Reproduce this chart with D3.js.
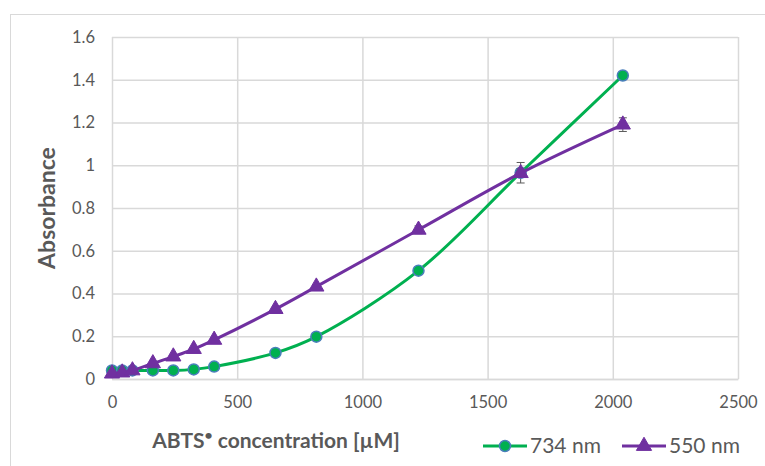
<!DOCTYPE html>
<html>
<head>
<meta charset="utf-8">
<script src="https://cdn.jsdelivr.net/npm/d3@7"></script>
<style>
  body { margin: 0; background: #fff; }
  text { font-family: Lato, "Open Sans", sans-serif; }
</style>
</head>
<body>
<div id="chart"></div>
<script>
// concentrations of ABTS radical (uM)
var conc = [0, 40.8, 81.6, 163.2, 244.8, 326.4, 408, 652.8, 816, 1224, 1632, 2040];
// absorbance at 734 nm
var abs734 = [0.04, 0.04, 0.04, 0.04, 0.04, 0.045, 0.058, 0.122, 0.198, 0.507, 0.965, 1.42];
var err734 = [0.005, 0.005, 0.005, 0.005, 0.005, 0.005, 0.005, 0.006, 0.006, 0.008, 0.048, 0.006];
// absorbance at 550 nm
var abs550 = [0.025, 0.03, 0.04, 0.073, 0.105, 0.14, 0.183, 0.327, 0.432, 0.698, 0.963, 1.19];
var err550 = [0.004, 0.004, 0.004, 0.004, 0.004, 0.005, 0.005, 0.006, 0.008, 0.018, 0.02, 0.032];
var xTicks = [0, 500, 1000, 1500, 2000, 2500];
var yTicks = [0, 0.2, 0.4, 0.6, 0.8, 1, 1.2, 1.4, 1.6];

var W = 765, H = 466;
var margin = {left: 112, right: 27, top: 37, bottom: 87};
var width = W - margin.left - margin.right;
var height = H - margin.top - margin.bottom;

var svg = d3.select("#chart").append("svg")
    .attr("width", W)
    .attr("height", H);

// outer chart frame
svg.append("rect")
    .attr("x", 10.5).attr("y", 14.5)
    .attr("width", 780).attr("height", 480)
    .attr("fill", "none")
    .attr("stroke", "#d9d9d9")
    .attr("stroke-width", 1);

var g = svg.append("g")
    .attr("transform", "translate(" + margin.left + "," + margin.top + ")");

var xScale = d3.scaleLinear().domain([0, 2500]).range([0, width]);
var yScale = d3.scaleLinear().domain([0, 1.6]).range([height, 0]);

// grid lines
g.append("g")
    .attr("class", "grid")
    .call(d3.axisLeft(yScale).tickValues(yTicks).tickSize(-width).tickFormat(""))
    .call(s => s.select(".domain").remove())
    .selectAll("line").attr("stroke", "#d9d9d9").attr("stroke-width", 1.5);

g.append("g")
    .attr("class", "grid")
    .call(d3.axisBottom(xScale).tickValues(xTicks).tickSize(height).tickFormat(""))
    .call(s => s.select(".domain").remove())
    .selectAll("line").attr("stroke", "#d9d9d9").attr("stroke-width", 1.5);

// axis labels
var xAxis = g.append("g")
    .attr("transform", "translate(0," + height + ")")
    .call(d3.axisBottom(xScale).tickValues(xTicks).tickSize(0).tickPadding(17).tickFormat(d3.format("d")));
xAxis.select(".domain").attr("stroke", "#d9d9d9").attr("stroke-width", 1.5);
xAxis.selectAll("text").style("font-size", "16.5px").attr("fill", "#595959");

var yAxis = g.append("g")
    .call(d3.axisLeft(yScale).tickValues(yTicks).tickSize(0).tickPadding(17).tickFormat(d => d));
yAxis.select(".domain").remove();
yAxis.selectAll("text").style("font-size", "16.5px").attr("fill", "#595959");

// axis titles
var xt = svg.append("text")
    .attr("x", 276)
    .attr("y", 448)
    .attr("text-anchor", "middle")
    .attr("fill", "#595959")
    .style("font-size", "21px")
    .style("font-weight", "bold");
xt.append("tspan").text("ABTS");
xt.append("tspan").attr("dy", "-8").style("font-size", "14px").text("\u2022");
xt.append("tspan").attr("dy", "8").text(" concentration [\u00b5M]");

svg.append("text")
    .attr("transform", "rotate(-90)")
    .attr("x", -208)
    .attr("y", 55)
    .attr("text-anchor", "middle")
    .attr("fill", "#595959")
    .style("font-size", "23px")
    .style("font-weight", "bold")
    .text("Absorbance");

var series = [
    {name: "734 nm", y: abs734, err: err734, color: "#00b050", marker: "circle"},
    {name: "550 nm", y: abs550, err: err550, color: "#7030a0", marker: "triangle"}
];

var line = d3.line()
    .x(d => xScale(d[0]))
    .y(d => yScale(d[1]))
    .curve(d3.curveCatmullRom.alpha(0.5));

var circleSym = d3.symbol().type(d3.symbolCircle).size(95);
var triSym = d3.symbol().type(d3.symbolTriangle).size(100);

series.forEach(function(s) {
    var pts = conc.map((c, i) => [c, s.y[i], s.err[i]]);

    g.append("path")
        .datum(pts)
        .attr("fill", "none")
        .attr("stroke", s.color)
        .attr("stroke-width", 3)
        .attr("d", line);

    // error bars
    var eb = g.append("g").selectAll("g")
        .data(pts)
        .enter().append("g");
    eb.append("line")
        .attr("x1", d => xScale(d[0])).attr("x2", d => xScale(d[0]))
        .attr("y1", d => yScale(d[1] - d[2])).attr("y2", d => yScale(d[1] + d[2]))
        .attr("stroke", "#595959").attr("stroke-width", 1);
    [-1, 1].forEach(function(sg) {
        eb.append("line")
            .attr("x1", d => xScale(d[0]) - 4).attr("x2", d => xScale(d[0]) + 4)
            .attr("y1", d => yScale(d[1] + sg * d[2])).attr("y2", d => yScale(d[1] + sg * d[2]))
            .attr("stroke", "#595959").attr("stroke-width", 1);
    });

    g.append("g").selectAll("path")
        .data(pts)
        .enter().append("path")
        .attr("transform", d => "translate(" + xScale(d[0]) + "," + yScale(d[1]) + ")")
        .attr("d", s.marker === "circle" ? circleSym : triSym)
        .attr("fill", s.color)
        .attr("stroke", s.marker === "circle" ? "#4a7ebb" : s.color)
        .attr("stroke-width", s.marker === "circle" ? 1.5 : 1);
});

// legend
var legend = svg.append("g").attr("transform", "translate(483,446)");
var lx = [0, 139];
series.forEach(function(s, i) {
    var lg = legend.append("g").attr("transform", "translate(" + lx[i] + ",0)");
    lg.append("line")
        .attr("x1", 0).attr("x2", 44)
        .attr("y1", 0).attr("y2", 0)
        .attr("stroke", s.color).attr("stroke-width", 3);
    lg.append("path")
        .attr("transform", "translate(22,0)")
        .attr("d", s.marker === "circle" ? circleSym : triSym)
        .attr("fill", s.color)
        .attr("stroke", s.marker === "circle" ? "#4a7ebb" : s.color)
        .attr("stroke-width", s.marker === "circle" ? 1.5 : 1);
    lg.append("text")
        .attr("x", 47)
        .attr("y", 0)
        .attr("dy", "0.35em")
        .attr("fill", "#595959")
        .style("font-size", "21px")
        .text(s.name);
});
</script>
</body>
</html>
